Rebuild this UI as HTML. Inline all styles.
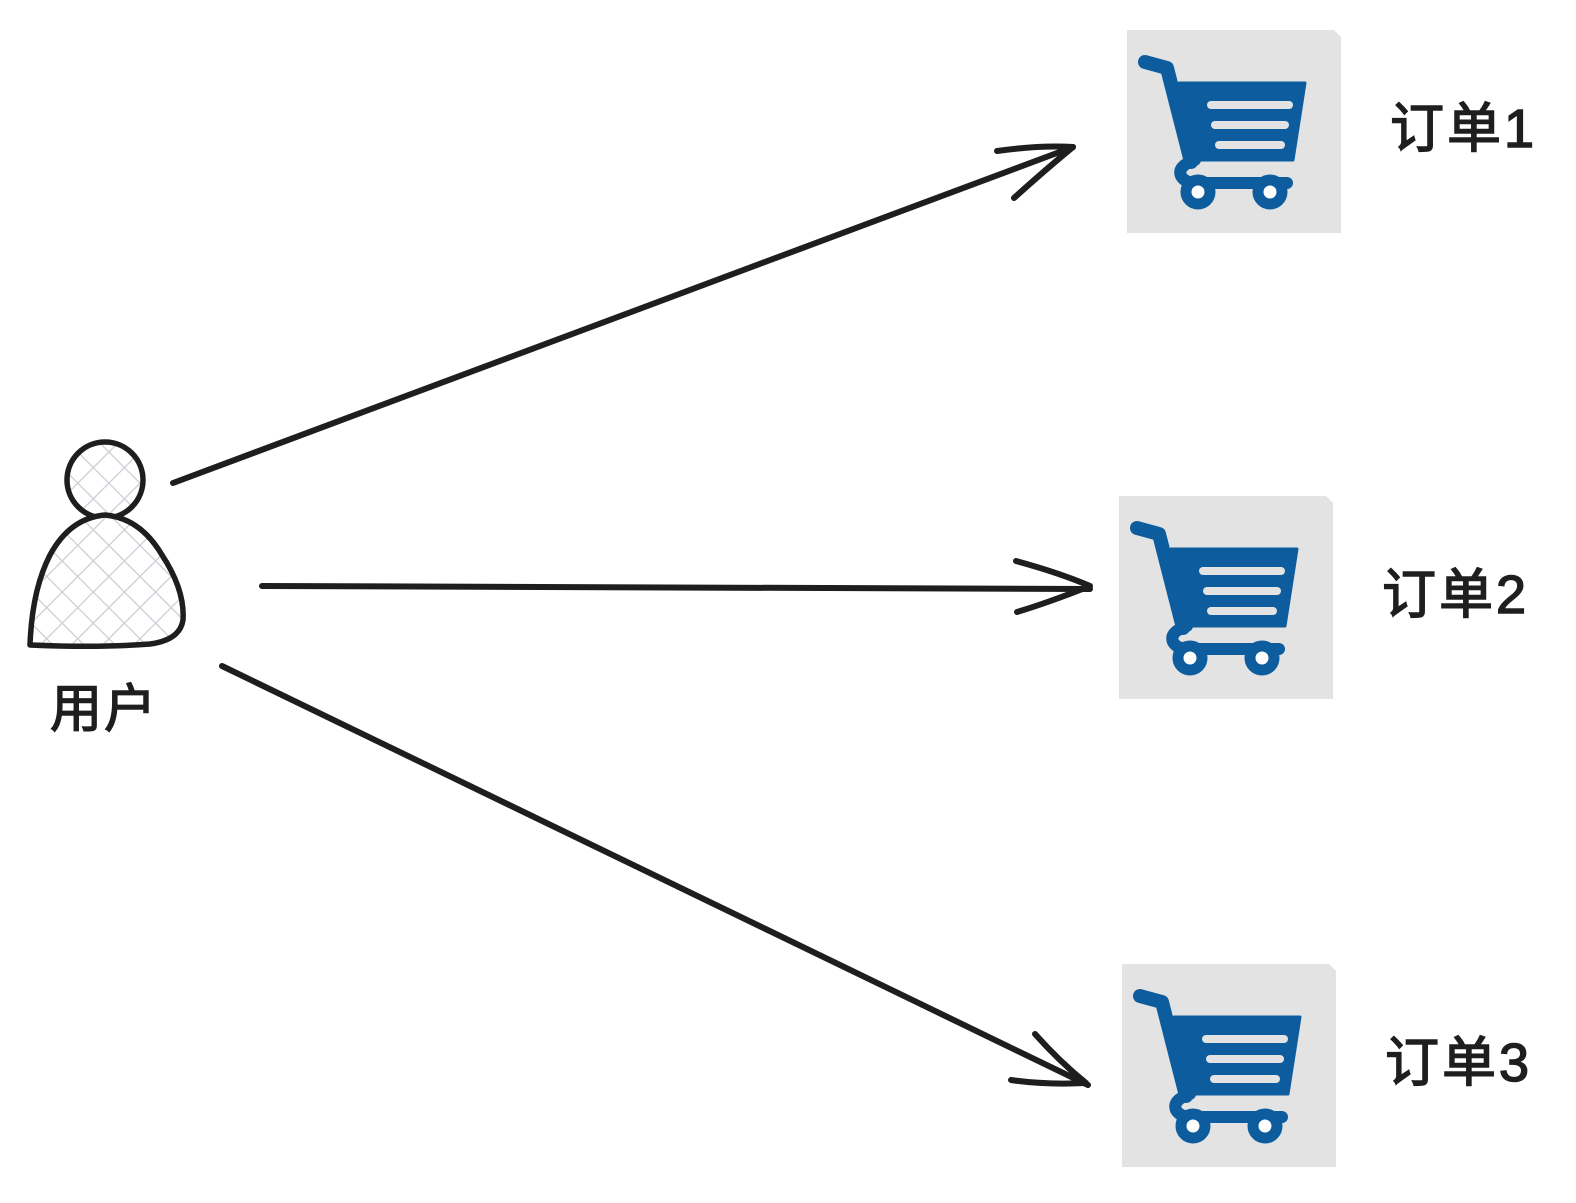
<!DOCTYPE html>
<html><head><meta charset="utf-8">
<style>
html,body{margin:0;padding:0;background:#fff;}
svg{display:block;}
text{font-family:"Liberation Sans","Noto Sans CJK SC",sans-serif;fill:#1e1e1e;stroke:#1e1e1e;stroke-width:1.5;}
</style></head>
<body>
<svg width="1576" height="1203" viewBox="0 0 1576 1203" xmlns="http://www.w3.org/2000/svg">
<defs>
<pattern id="hatch" width="22" height="22" patternUnits="userSpaceOnUse" patternTransform="rotate(45)">
<rect width="22" height="22" fill="#fff"/>
<line x1="0" y1="0" x2="0" y2="22" stroke="#c9ced6" stroke-width="2.5"/>
<line x1="0" y1="0" x2="22" y2="0" stroke="#c9ced6" stroke-width="2.5"/>
</pattern>
<g id="cart">
<path d="M0 0 H207 L214 7 V203 H0 Z" fill="#e3e3e3"/>
<g fill="#0d5c9e" stroke="#0d5c9e">
<path d="M18 32 L40 38 L64 132" fill="none" stroke-width="14" stroke-linecap="round" stroke-linejoin="round"/>
<path d="M52 53 H178 L166 130 H66 Z" stroke-width="3" stroke-linejoin="round"/>
<path d="M68 130 Q50 136 54 146 Q58 153 70 153 H160" fill="none" stroke-width="12" stroke-linecap="round"/>
<circle cx="71" cy="162" r="12" fill="#fff" stroke-width="11"/>
<circle cx="143" cy="162" r="12" fill="#fff" stroke-width="11"/>
</g>
<g stroke="#e3e3e3" stroke-width="8" stroke-linecap="round">
<line x1="84" y1="75" x2="162" y2="75"/>
<line x1="88" y1="95" x2="158" y2="95"/>
<line x1="92" y1="115" x2="154" y2="115"/>
</g>
</g>
</defs>

<use href="#cart" x="1127" y="30"/>
<use href="#cart" x="1119" y="496"/>
<use href="#cart" x="1122" y="964"/>

<text x="1390" y="147" font-size="54" letter-spacing="3">订单1</text>
<text x="1382" y="613" font-size="54" letter-spacing="3">订单2</text>
<text x="1385" y="1081" font-size="54" letter-spacing="3">订单3</text>

<!-- person -->
<circle cx="105" cy="480" r="38" fill="url(#hatch)" stroke="#1e1e1e" stroke-width="5.5"/>
<path d="M30 645 Q32 590 50 555 Q70 518 105 515 Q140 518 162 555 Q185 590 183 620 Q180 640 150 644 Q100 648 30 645 Z" fill="url(#hatch)" stroke="#1e1e1e" stroke-width="5.5" stroke-linejoin="round"/>
<text x="50" y="727" font-size="52" letter-spacing="2">用户</text>

<g stroke="#1e1e1e" stroke-width="6" fill="none" stroke-linecap="round" stroke-linejoin="round">
<path d="M173 483 L1073 147"/>
<path d="M997 151 Q1040 145 1073 147 Q1045 170 1014 198"/>
<path d="M262 586 L1090 589"/>
<path d="M1016 561 Q1060 573 1090 586 Q1050 602 1017 612"/>
<path d="M222 666 L1088 1085"/>
<path d="M1035 1034 Q1060 1062 1086 1083 Q1045 1085 1011 1080"/>
</g>
</svg>
</body></html>
